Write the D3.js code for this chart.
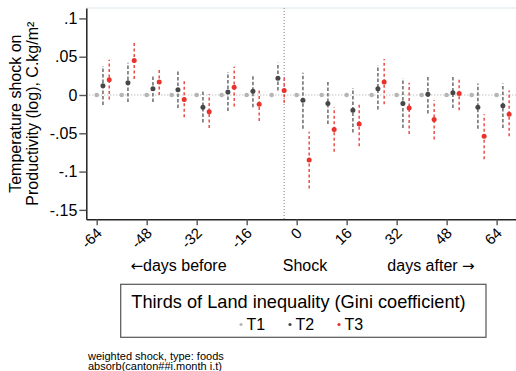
<!DOCTYPE html>
<html>
<head>
<meta charset="utf-8">
<script src="https://cdn.jsdelivr.net/npm/d3@7"></script>
<style>
    body { margin: 0; background: #fff; }
    svg { display: block; font-family: "Liberation Sans", Arial, Helvetica, sans-serif; }
</style>
</head>
<body>
<div id="chart"></div>
<script>
// event-time bins (days relative to the shock)
var bins = [-64, -56, -48, -40, -32, -24, -16, -8, 0, 8, 16, 24, 32, 40, 48, 56, 64];

// T1 is the reference third
var t1Est = [0, 0, 0, 0, 0, 0, 0, 0, 0, 0, 0, 0, 0, 0, 0, 0, 0];

var t2Est = [.012, .016, .008, .007, -.016, .004, .005, .022, -.007, -.011, -.020, .008, -.011, .001, .003, -.016, -.014];
var t2Lo  = [-.013, -.009, -.009, -.017, -.036, -.021, -.016, .006, -.044, -.038, -.049, -.019, -.043, -.024, -.017, -.044, -.043];
var t2Hi  = [.038, .042, .026, .033, .007, .030, .027, .042, .029, .017, .009, .039, .022, .026, .024, .015, .015];

var t3Est = [.020, .045, .017, -.006, -.022, .010, -.012, .006, -.085, -.045, -.038, .017, -.017, -.032, .002, -.054, -.025];
var t3Lo  = [-.006, .021, .000, -.029, -.043, -.015, -.034, -.010, -.122, -.074, -.067, -.012, -.051, -.058, -.020, -.084, -.054];
var t3Hi  = [.046, .070, .036, .020, .001, .037, .009, .024, -.048, -.016, -.010, .047, .016, -.007, .023, -.025, .006];

var xTicks = [-64, -48, -32, -16, 0, 16, 32, 48, 64];
var yTicks = [.1, .05, 0, -.05, -.1, -.15];
var yTickLabels = [".1", ".05", "0", "-.05", "-.1", "-.15"];

var groupNames = ["T1", "T2", "T3"];
var shockDay = -4;

shockChart = {
    init: function(){
        this.width = 516;
        this.height = 371;
        this.plot = { left: 86.3, right: 516, top: 8, bottom: 219.3 };
        this.x = d3.scaleLinear().domain([-67.33, 70.2]).range([this.plot.left, this.plot.right]);
        this.y = d3.scaleLinear().domain([-.1623, .1136]).range([this.plot.bottom, this.plot.top]);
        this.svg = d3.select("#chart").append("svg")
            .attr("width", this.width)
            .attr("height", this.height);
        this.drawFrame();
        this.drawSeries();
        this.drawAxes();
        this.drawLegend();
    },
    drawFrame: function(){
        var self = this, p = self.plot;
        // light plot-region edge along the top
        self.svg.append("line")
            .attr("x1", p.left).attr("x2", p.right)
            .attr("y1", p.top).attr("y2", p.top)
            .attr("stroke", "#dde7ee").attr("stroke-width", 1);
        // zero line
        self.svg.append("line")
            .attr("x1", p.left).attr("x2", p.right)
            .attr("y1", self.y(0)).attr("y2", self.y(0))
            .attr("stroke", "#a8a8a8").attr("stroke-width", 1.2)
            .attr("stroke-dasharray", "1,2");
        // shock marker
        self.svg.append("line")
            .attr("x1", self.x(shockDay)).attr("x2", self.x(shockDay))
            .attr("y1", p.top).attr("y2", p.bottom)
            .attr("stroke", "#8a8a8a").attr("stroke-width", 1.1)
            .attr("stroke-dasharray", "1,2");
    },
    drawSeries: function(){
        var self = this;
        var series = [
            { est: t2Est, lo: t2Lo, hi: t2Hi, offset: 2, dot: "#474747", ci: "#7c7c7c", w: 1.7, dash: "3.5,2" },
            { est: t3Est, lo: t3Lo, hi: t3Hi, offset: 4, dot: "#e8322b", ci: "#e8322b", w: 1.3, dash: "3,2.5" }
        ];
        series.forEach(function(s){
            var g = self.svg.append("g");
            g.selectAll("line").data(bins).enter().append("line")
                .attr("x1", function(d){ return self.x(d + s.offset); })
                .attr("x2", function(d){ return self.x(d + s.offset); })
                .attr("y1", function(d, i){ return self.y(s.lo[i]); })
                .attr("y2", function(d, i){ return self.y(s.hi[i]); })
                .attr("stroke", s.ci)
                .attr("stroke-width", s.w)
                .attr("stroke-dasharray", s.dash);
        });
        // T1 points at zero
        self.svg.append("g").selectAll("circle").data(bins).enter().append("circle")
            .attr("cx", function(d){ return self.x(d); })
            .attr("cy", function(d, i){ return self.y(t1Est[i]); })
            .attr("r", 2.3)
            .attr("fill", "#b5b5b5");
        series.forEach(function(s){
            self.svg.append("g").selectAll("circle").data(bins).enter().append("circle")
                .attr("cx", function(d){ return self.x(d + s.offset); })
                .attr("cy", function(d, i){ return self.y(s.est[i]); })
                .attr("r", 2.5)
                .attr("fill", s.dot);
        });
    },
    drawAxes: function(){
        var self = this, p = self.plot;
        var yAxis = self.svg.append("g")
            .attr("transform", "translate(" + p.left + ",0)")
            .call(d3.axisLeft(self.y).tickValues(yTicks).tickSize(7).tickSizeOuter(0).tickPadding(2)
                .tickFormat(function(d, i){ return yTickLabels[i]; }));
        yAxis.select(".domain").attr("stroke", "#222").attr("stroke-width", 1.5);
        yAxis.selectAll(".tick line").attr("stroke", "#555").attr("stroke-width", 1.4);
        yAxis.selectAll(".tick text").attr("font-size", 16).attr("fill", "#000").attr("font-family", null);

        var xAxis = self.svg.append("g")
            .attr("transform", "translate(0," + p.bottom + ")")
            .call(d3.axisBottom(self.x).tickValues(xTicks).tickSize(6).tickSizeOuter(0)
                .tickFormat(function(d){ return String(d); }));
        xAxis.select(".domain").attr("stroke", "#222").attr("stroke-width", 1.5);
        xAxis.selectAll(".tick line").attr("stroke", "#555").attr("stroke-width", 1.4);
        xAxis.selectAll(".tick text")
            .attr("font-size", 15).attr("fill", "#000").attr("font-family", null)
            .attr("x", 0).attr("y", 0).attr("dy", "0.35em")
            .attr("text-anchor", "end")
            .attr("transform", "translate(2,11) rotate(-45)");

        // y title, two lines
        var cy = (p.top + p.bottom) / 2;
        var title = self.svg.append("text")
            .attr("transform", "translate(21," + cy + ") rotate(-90)")
            .attr("text-anchor", "middle")
            .attr("font-size", 16);
        title.append("tspan").attr("x", 0).attr("y", 0).text("Temperature shock on");
        title.append("tspan").attr("x", 0).attr("y", 17).text("Productivity (log), C.kg/m²");

        // x captions; arrows set in DejaVu so they draw long
        var captions = [
            { pre: "\u2190", text: "days before", post: "", x: 178.5 },
            { pre: "", text: "Shock", post: "", x: 305 },
            { pre: "", text: "days after ", post: "\u2192", x: 431 }
        ];
        var cap = self.svg.append("g").selectAll("text").data(captions).enter().append("text")
            .attr("x", function(d){ return d.x; })
            .attr("y", 271)
            .attr("text-anchor", "middle")
            .attr("font-size", 16);
        cap.append("tspan").attr("font-family", "DejaVu Sans").attr("font-size", 15)
            .text(function(d){ return d.pre; });
        cap.append("tspan").text(function(d){ return d.text; });
        cap.append("tspan").attr("font-family", "DejaVu Sans").attr("font-size", 15)
            .text(function(d){ return d.post; });
    },
    drawLegend: function(){
        var self = this;
        var lg = self.svg.append("g");
        lg.append("rect")
            .attr("x", 120.7).attr("y", 284.3)
            .attr("width", 365.3).attr("height", 53)
            .attr("fill", "#fff").attr("stroke", "#555").attr("stroke-width", 1.2);
        lg.append("text")
            .attr("x", 298.5).attr("y", 308)
            .attr("text-anchor", "middle")
            .attr("font-size", 18.2)
            .text("Thirds of Land inequality (Gini coefficient)");
        var colors = ["#b5b5b5", "#474747", "#e8322b"];
        var item = lg.selectAll(".item").data(groupNames).enter().append("g")
            .attr("class", "item")
            .attr("transform", function(d, i){ return "translate(" + (241 + i * 49) + ",330)"; });
        item.append("circle").attr("cx", 0).attr("cy", -5.5).attr("r", 1.6)
            .attr("fill", function(d, i){ return colors[i]; });
        item.append("text").attr("x", 5.5).attr("y", 0).attr("font-size", 16)
            .text(function(d){ return d; });

        // estimation notes
        var note = self.svg.append("text").attr("font-size", 11);
        note.append("tspan").attr("x", 88).attr("y", 359.5).text("weighted shock, type: foods");
        note.append("tspan").attr("x", 88).attr("y", 370).text("absorb(canton##i.month i.t)");
    }
};

shockChart.init();
</script>
</body>
</html>
